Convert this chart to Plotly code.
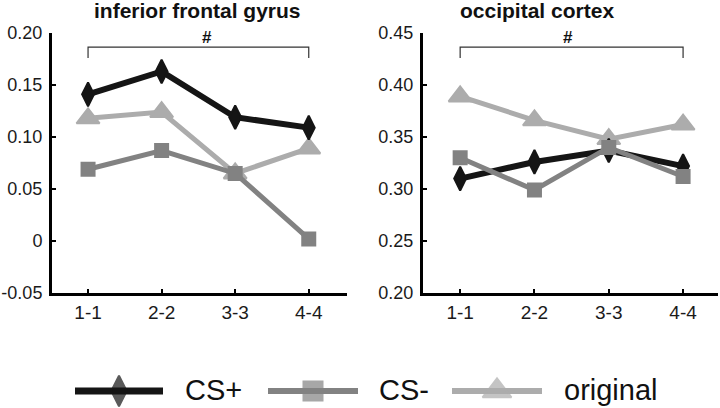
import plotly.graph_objects as go

# ---------------- data ----------------
categories = ["1-1", "2-2", "3-3", "4-4"]
positions = [1, 2, 3, 4]

ifg_cs_plus = [0.141, 0.163, 0.119, 0.109]
ifg_cs_minus = [0.069, 0.087, 0.065, 0.002]
ifg_original = [0.118, 0.124, 0.065, 0.089]

occ_cs_plus = [0.310, 0.326, 0.337, 0.322]
occ_cs_minus = [0.330, 0.299, 0.340, 0.312]
occ_original = [0.389, 0.366, 0.348, 0.362]

ifg_yticks = [-0.05, 0, 0.05, 0.10, 0.15, 0.20]
ifg_yticklabels = ["-0.05", "0", "0.05", "0.10", "0.15", "0.20"]
occ_yticks = [0.20, 0.25, 0.30, 0.35, 0.40, 0.45]
occ_yticklabels = ["0.20", "0.25", "0.30", "0.35", "0.40", "0.45"]

panel_titles = ["inferior frontal gyrus", "occipital cortex"]
series_names = ["CS+", "CS-", "original"]

# ---------------- styles ----------------
W, H = 720, 408
FONT = "Liberation Sans, Arial, sans-serif"
col = {"CS+": "#151515", "CS-": "#828282", "original": "#acacac"}
sym = {"CS+": "diamond-tall", "CS-": "square", "original": "triangle-up"}
msize = {"CS+": 17, "CS-": 13, "original": 20}
lwidth = {"CS+": 6, "CS-": 5, "original": 5}

fig = go.Figure()

def add_series(name, ys, xa, ya):
    fig.add_trace(go.Scatter(
        x=positions, y=ys, mode="lines+markers", name=name,
        xaxis=xa, yaxis=ya, showlegend=False,
        line=dict(color=col[name], width=lwidth[name]),
        marker=dict(symbol=sym[name], size=msize[name], color=col[name],
                    line=dict(color=col[name], width=2)),
    ))

# draw order: original (bottom), CS+, CS- (top)
for name, ys in [("original", ifg_original), ("CS+", ifg_cs_plus), ("CS-", ifg_cs_minus)]:
    add_series(name, ys, "x", "y")
for name, ys in [("original", occ_original), ("CS+", occ_cs_plus), ("CS-", occ_cs_minus)]:
    add_series(name, ys, "x2", "y2")

# ---------------- legend (custom, drawn on a hidden full-page axis) ----------------
legend_line_x = {"CS+": (75, 163), "CS-": (268, 358), "original": (452, 542)}
legend_text_x = {"CS+": 183, "CS-": 377, "original": 562}
legend_y = 391
legend_msize = {"CS+": 22, "CS-": 19, "original": 25}
for name in series_names:
    x0, x1 = legend_line_x[name]
    fig.add_trace(go.Scatter(
        x=[x0, (x0 + x1) / 2, x1], y=[legend_y] * 3, mode="lines+markers",
        xaxis="x3", yaxis="y3", showlegend=False, hoverinfo="skip",
        line=dict(color=col[name], width=7 if name == "CS+" else 6),
        marker=dict(symbol=sym[name], size=[0, legend_msize[name], 0], color=col[name],
                    line=dict(color=col[name], width=[0, 2, 0])),
    ))

annotations = []
for name in series_names:
    annotations.append(dict(
        x=legend_text_x[name] / W, y=1 - (legend_y - 1) / H, xref="paper", yref="paper",
        text=name, showarrow=False, xanchor="left", yanchor="middle",
        font=dict(family=FONT, size=29, color="#111"),
    ))

# ---------------- axes ----------------
yd = [1 - 293 / H, 1 - 33 / H]
common_x = dict(
    tickmode="array", tickvals=positions, ticktext=categories,
    showline=True, linecolor="black", linewidth=3, mirror=False,
    ticks="inside", ticklen=4, tickwidth=2, tickcolor="black",
    showgrid=False, zeroline=False, automargin=False,
    tickfont=dict(family=FONT, size=19, color="#1a1a1a"),
    ticklabelstandoff=0,
)
common_y = dict(
    showline=True, linecolor="black", linewidth=3,
    ticks="inside", ticklen=4, tickwidth=2, tickcolor="black",
    showgrid=False, zeroline=False, automargin=False,
    tickfont=dict(family=FONT, size=18, color="#1a1a1a"),
    ticklabelstandoff=3,
)

fig.update_layout(
    xaxis=dict(domain=[52 / W, 347 / W], range=[0.51, 4.52], anchor="y", **common_x),
    yaxis=dict(domain=yd, range=[-0.05, 0.20], anchor="x", tickmode="array",
               tickvals=ifg_yticks, ticktext=ifg_yticklabels, **common_y),
    xaxis2=dict(domain=[423 / W, 718 / W], range=[0.5, 4.47], anchor="y2", **common_x),
    yaxis2=dict(domain=yd, range=[0.20, 0.45], anchor="x2", tickmode="array",
                tickvals=occ_yticks, ticktext=occ_yticklabels, **common_y),
    xaxis3=dict(domain=[0, 1], range=[0, W], anchor="y3", visible=False,
                fixedrange=True, automargin=False),
    yaxis3=dict(domain=[0, 1], range=[H, 0], anchor="x3", visible=False,
                fixedrange=True, automargin=False),
)

# ---------------- brackets, "#" and titles ----------------
shapes = []
for xr, yr, top, low in [("x", "y", 0.1865, 0.176), ("x2", "y2", 0.4365, 0.426)]:
    shapes.append(dict(
        type="path", xref=xr, yref=yr,
        path=f"M 1,{low} L 1,{top} L 4,{top} L 4,{low}",
        line=dict(color="#333", width=1.2),
    ))

annotations += [
    dict(x=2.62, y=0.196, xref="x", yref="y", text="<b>#</b>", showarrow=False,
         font=dict(family=FONT, size=17, color="#111"), yanchor="middle"),
    dict(x=2.45, y=0.446, xref="x2", yref="y2", text="<b>#</b>", showarrow=False,
         font=dict(family=FONT, size=17, color="#111"), yanchor="middle"),
    dict(x=197 / W, y=1 - 10 / H, xref="paper", yref="paper", text=f"<b>{panel_titles[0]}</b>",
         showarrow=False, xanchor="center", yanchor="middle",
         font=dict(family=FONT, size=21, color="#111")),
    dict(x=537 / W, y=1 - 10 / H, xref="paper", yref="paper", text=f"<b>{panel_titles[1]}</b>",
         showarrow=False, xanchor="center", yanchor="middle",
         font=dict(family=FONT, size=21, color="#111")),
]

fig.update_layout(
    width=W, height=H, margin=dict(l=0, r=0, t=0, b=0, pad=0, autoexpand=False),
    paper_bgcolor="white", plot_bgcolor="rgba(0,0,0,0)",
    shapes=shapes, annotations=annotations, showlegend=False,
)

fig.write_html("out.html", config={"displayModeBar": False},
               post_script="document.body.style.margin='0px';")
